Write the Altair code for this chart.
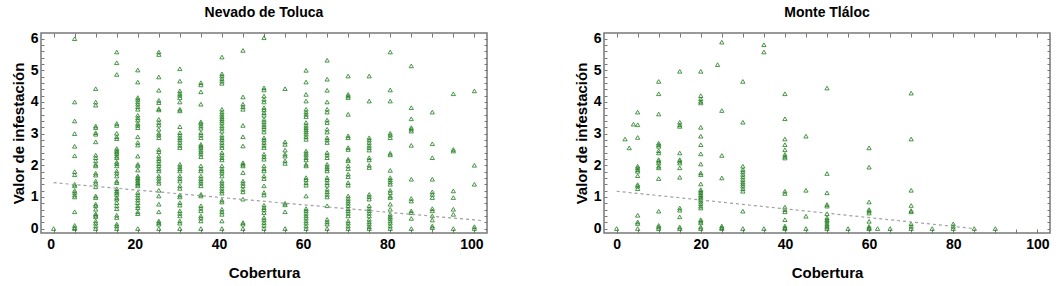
import altair as alt
import pandas as pd

# ---------------- Data: Nevado de Toluca (Cobertura -> infestation values) ----------------
nt_cobertura = [0, 5, 10, 15, 20, 25, 30, 35, 40, 45, 50, 55, 60, 65, 70, 75, 80, 85, 90, 95, 100]
nt_0 = [0]
nt_5 = [6.0, 4.0, 3.4, 3.0, 2.6, 2.3, 1.8, 1.7, 1.4, 1.35, 1.2, 1.14, 1.06, 1.0, 0.53, 0.1, 0.03, 0]
nt_10 = [4.42, 4.0, 3.9, 3.24, 3.19, 3.03, 2.98, 2.74, 2.32, 2.24, 2.14, 2.03, 1.98, 1.75, 1.69, 1.5,
         1.43, 1.32, 1.03, 0.98, 0.77, 0.72, 0.61, 0.47, 0.42, 0.38, 0.24, 0.17, 0.08, 0]
nt_15 = [5.58, 5.24, 4.87, 3.32, 3.26, 3.01, 2.9, 2.84, 2.53, 2.47, 2.42, 2.37, 2.29, 2.24, 2.1, 2.05,
         1.98, 1.82, 1.75, 1.66, 1.5, 1.45, 1.26, 1.19, 1.14, 1.08, 0.98, 0.93, 0.82, 0.72, 0.63, 0.42,
         0.35, 0.14, 0.08, 0]
nt_20 = [5.01, 4.63, 4.14, 4.08, 4.0, 3.93, 3.85, 3.77, 3.58, 3.5, 3.43, 3.32, 3.26, 3.19, 2.9, 2.72,
         2.64, 2.29, 2.03, 1.98, 1.85, 1.66, 1.61, 1.56, 1.5, 1.45, 1.4, 1.35, 1.14, 1.06, 0.98, 0.9,
         0.82, 0.72, 0.66, 0.53, 0.47, 0]
nt_25 = [5.58, 5.5, 4.79, 4.37, 4.05, 3.98, 3.79, 3.75, 3.45, 3.35, 3.27, 3.14, 3.01, 2.95, 2.87, 2.5,
         2.43, 2.29, 2.21, 2.14, 2.05, 1.98, 1.89, 1.82, 1.66, 1.59, 1.5, 1.43, 1.21, 1.03, 0.77, 0.53,
         0.24, 0.19, 0.14, 0]
nt_30 = [5.05, 4.66, 4.35, 4.27, 4.21, 4.14, 4.0, 3.77, 3.72, 3.22, 3.03, 2.95, 2.87, 2.8, 2.72, 2.63,
         2.56, 2.03, 1.96, 1.89, 1.82, 1.66, 1.58, 1.5, 1.35, 1.27, 1.06, 1.0, 0.82, 0.74, 0.56, 0.48,
         0.4, 0.24, 0.17, 0]
nt_35 = [4.61, 4.54, 4.32, 3.93, 3.37, 3.32, 3.24, 3.17, 3.03, 2.95, 2.87, 2.66, 2.61, 2.56, 2.48, 2.42,
         2.35, 2.27, 1.98, 1.89, 1.82, 1.66, 1.58, 1.5, 1.43, 1.35, 1.08, 1.03, 0.72, 0.64, 0.56, 0.4,
         0.33, 0.24, 0]
nt_40 = [5.42, 4.89, 4.82, 4.74, 4.66, 4.59, 3.77, 3.68, 3.61, 3.54, 3.47, 3.4, 3.33, 3.24, 3.17, 3.08,
         2.95, 2.87, 2.8, 2.72, 2.63, 2.56, 2.4, 2.32, 2.24, 2.17, 1.98, 1.89, 1.82, 1.75, 1.66, 1.5,
         1.43, 1.35, 1.27, 1.19, 1.12, 0.9, 0.84, 0.61, 0.53, 0.45, 0.24, 0]
nt_45 = [5.63, 4.16, 3.93, 3.85, 3.77, 3.26, 2.9, 2.61, 2.08, 2.03, 1.98, 1.77, 1.5, 1.43, 1.35, 1.24,
         1.16, 0.93, 0.19, 0.14, 0]
nt_50 = [6.03, 4.45, 4.38, 4.19, 4.08, 4.0, 3.82, 3.75, 3.66, 3.58, 3.45, 3.37, 3.29, 3.22, 3.14, 3.05,
         2.87, 2.8, 2.72, 2.63, 2.56, 2.35, 2.27, 2.19, 1.98, 1.89, 1.82, 1.66, 1.58, 1.35, 1.14, 1.06,
         0.74, 0.66, 0.59, 0.5, 0.35, 0.27, 0.19, 0.1, 0]
nt_55 = [4.42, 2.74, 2.66, 2.48, 2.35, 2.29, 2.14, 2.06, 0.8, 0.75, 0.53, 0]
nt_60 = [5.0, 4.63, 4.24, 4.03, 3.77, 3.68, 3.61, 3.54, 3.35, 3.26, 3.19, 3.12, 3.05, 2.98, 2.9, 2.82,
         2.45, 2.38, 2.32, 2.24, 2.17, 2.03, 1.98, 1.61, 1.54, 1.45, 1.37, 1.03, 0.63, 0.56, 0.48, 0.4,
         0.33, 0.24, 0.17, 0.08, 0]
nt_65 = [5.32, 4.72, 4.37, 4.0, 3.77, 3.68, 3.43, 3.35, 3.14, 3.05, 2.87, 2.8, 2.72, 2.4, 2.32, 2.24,
         2.03, 1.96, 1.89, 1.82, 1.61, 1.54, 1.45, 1.37, 1.24, 1.16, 1.08, 1.0, 0.72, 0.29, 0.21, 0.14, 0]
nt_70 = [4.82, 4.24, 4.19, 4.14, 3.61, 2.93, 2.87, 2.56, 2.5, 2.19, 2.14, 1.98, 1.89, 1.72, 1.64, 1.45,
         1.37, 1.03, 0.95, 0.87, 0.8, 0.72, 0.63, 0.56, 0.48, 0.4, 0.24, 0.17, 0.08, 0]
nt_75 = [4.82, 4.03, 2.87, 2.8, 2.72, 2.63, 2.56, 2.48, 2.24, 2.17, 2.0, 1.93, 1.08, 1.01, 0.93, 0.72,
         0.63, 0.56, 0.48, 0.4, 0.29, 0.21, 0.14, 0.06, 0]
nt_80 = [5.58, 4.38, 4.03, 3.01, 2.95, 2.87, 2.38, 2.33, 1.84, 1.61, 1.54, 1.47, 1.4, 1.21, 1.14, 1.03,
         0.98, 0.77, 0.61, 0.45, 0.38, 0.32, 0.24, 0.17, 0.08, 0]
nt_85 = [5.14, 3.82, 3.47, 3.19, 3.14, 3.08, 2.63, 1.56, 0.95, 0.87, 0.56, 0.5, 0.32, 0]
nt_90 = [3.68, 2.68, 2.24, 1.56, 1.16, 1.08, 0.98, 0.63, 0.56, 0.4, 0.27, 0.08, 0.03]
nt_95 = [4.26, 2.5, 2.45, 1.19, 0.98, 0.61, 0.45, 0]
nt_100 = [4.35, 2.0, 1.4, 0.06, 0]
nt_columns = [nt_0, nt_5, nt_10, nt_15, nt_20, nt_25, nt_30, nt_35, nt_40, nt_45, nt_50,
              nt_55, nt_60, nt_65, nt_70, nt_75, nt_80, nt_85, nt_90, nt_95, nt_100]
nt_fit_x = [0, 102]
nt_fit_y = [1.45, 0.25]

# ---------------- Data: Monte Tláloc ----------------
mt_cobertura = [0, 2, 3, 4, 5, 10, 15, 20, 24, 25, 30, 35, 40, 45, 50, 55, 60, 62, 65, 70, 75, 80, 85, 90]
mt_0 = [0]
mt_2 = [2.83]
mt_3 = [2.55]
mt_4 = [3.3]
mt_5 = [3.68, 3.28, 2.88, 1.97, 1.92, 1.86, 1.81, 1.67, 1.39, 1.34, 1.26, 0.42, 0.21, 0.16, 0]
mt_10 = [4.65, 4.26, 3.62, 2.7, 2.65, 2.6, 2.46, 2.39, 2.18, 2.13, 2.07, 1.97, 1.92, 1.58, 0.55, 0.1, 0.05, 0]
mt_15 = [4.97, 3.36, 3.28, 3.23, 2.39, 2.18, 2.13, 2.07, 1.92, 1.62, 0.65, 0.58, 0.37, 0.05, 0]
mt_20 = [4.97, 4.2, 4.1, 4.02, 3.97, 3.2, 2.92, 2.65, 2.36, 2.04, 1.76, 1.7, 1.41, 1.23, 1.18, 1.13,
         1.07, 1.02, 0.97, 0.92, 0.86, 0.79, 0.71, 0.65, 0.28, 0.23, 0.18, 0.05, 0]
mt_24 = [5.18]
mt_25 = [5.89, 3.73, 2.31, 1.6, 0.08, 0.03, 0]
mt_30 = [4.65, 3.36, 1.97, 1.86, 1.79, 1.71, 1.63, 1.55, 1.47, 1.41, 1.34, 1.26, 1.18, 0.55, 0]
mt_35 = [5.81, 5.58, 0]
mt_40 = [4.26, 3.47, 2.83, 2.65, 2.49, 2.34, 2.28, 2.23, 1.18, 1.11, 0.68, 0.6, 0.53, 0.28, 0.08, 0.03, 0]
mt_45 = [2.92, 1.21, 0.39, 0]
mt_50 = [4.44, 1.74, 1.13, 0.76, 0.71, 0.47, 0.34, 0.28, 0.23, 0.16, 0.1, 0.05, 0]
mt_55 = [0]
mt_60 = [2.55, 1.94, 0.84, 0.6, 0.55, 0.49, 0.23, 0.07, 0.02, 0]
mt_62 = [0]
mt_65 = [0]
mt_70 = [4.28, 2.83, 1.21, 0.73, 0.57, 0.53, 0.15, 0.07, 0]
mt_75 = [0]
mt_80 = [0.15, 0.07, 0]
mt_85 = [0]
mt_90 = [0]
mt_columns = [mt_0, mt_2, mt_3, mt_4, mt_5, mt_10, mt_15, mt_20, mt_24, mt_25, mt_30, mt_35, mt_40,
              mt_45, mt_50, mt_55, mt_60, mt_62, mt_65, mt_70, mt_75, mt_80, mt_85, mt_90]
mt_fit_x = [0, 85]
mt_fit_y = [1.18, 0.0]

# axis tick positions / labels
x_ticks = list(range(0, 101, 5))
y_ticks = [round(i * 0.2, 1) for i in range(31)]


def to_frame(xs, cols):
    rows = []
    for xv, vals in zip(xs, cols):
        for v in vals:
            rows.append({"Cobertura": xv, "Infestacion": v})
    return pd.DataFrame(rows)


FONT = "Liberation Sans"
GREEN = "#1f7f1f"
FRAME = "#787878"

x_scale = alt.Scale(domain=[-3, 103], nice=False, zero=False)
y_scale = alt.Scale(domain=[-0.14, 6.18], nice=False, zero=False)

common_axis = dict(domain=False, grid=False, tickColor=FRAME, tickWidth=1,
                   labelFont=FONT, labelFontSize=14, labelFontWeight="bold", labelColor="black",
                   titleFont=FONT, titleFontSize=15, titleFontWeight="bold", titleColor="black")


def panel(title, xs, cols, fit_x, fit_y, label_offset):
    df = to_frame(xs, cols)
    fit = pd.DataFrame({"x": fit_x, "y": fit_y})
    pts = alt.Chart(df).mark_point(
        shape="triangle-up", filled=False, size=18, strokeWidth=0.9, color=GREEN, opacity=0.9
    ).encode(
        x=alt.X("Cobertura:Q", scale=x_scale,
                axis=alt.Axis(orient="bottom", values=x_ticks, tickSize=4, offset=-4,
                              labelExpr="datum.value % 20 === 0 ? datum.label : ''",
                              labelPadding=4, labelOffset=label_offset, title="Cobertura",
                              titlePadding=14, **common_axis)),
        y=alt.Y("Infestacion:Q", scale=y_scale,
                axis=alt.Axis(orient="left", values=y_ticks, tickSize=3, offset=-3,
                              labelExpr="abs(datum.value - round(datum.value)) < 0.01 ? format(datum.value, '.0f') : ''",
                              labelPadding=3, title="Valor de infestación", titlePadding=4,
                              **common_axis)),
    )
    line = alt.Chart(fit).mark_line(
        strokeDash=[3, 3], color="#a0a0a0", strokeWidth=1.2
    ).encode(
        x=alt.X("x:Q", scale=x_scale,
                axis=alt.Axis(orient="top", values=x_ticks, tickSize=4, offset=-4, labels=False,
                              title=None, domain=False, grid=False, tickColor=FRAME)),
        y=alt.Y("y:Q", scale=y_scale,
                axis=alt.Axis(orient="right", values=y_ticks, tickSize=3, offset=-3, labels=False,
                              title=None, domain=False, grid=False, tickColor=FRAME)),
    )
    return alt.layer(pts, line).resolve_axis(x="independent", y="independent").properties(
        width=446, height=200,
        title=alt.TitleParams(title, font=FONT, fontSize=14, fontWeight="bold", color="black",
                              anchor="middle", offset=12),
    )


left = panel("Nevado de Toluca", nt_cobertura, nt_columns, nt_fit_x, nt_fit_y, -3)
right = panel("Monte Tláloc", mt_cobertura, mt_columns, mt_fit_x, mt_fit_y, 0)

chart = alt.hconcat(left, right, spacing=84).properties(
    padding={"left": 10, "top": 4, "right": 6, "bottom": 2},
    background="white",
).configure_view(stroke=FRAME, strokeWidth=1.5)

chart.save("out.html", embed_options={"renderer": "svg", "actions": False})
